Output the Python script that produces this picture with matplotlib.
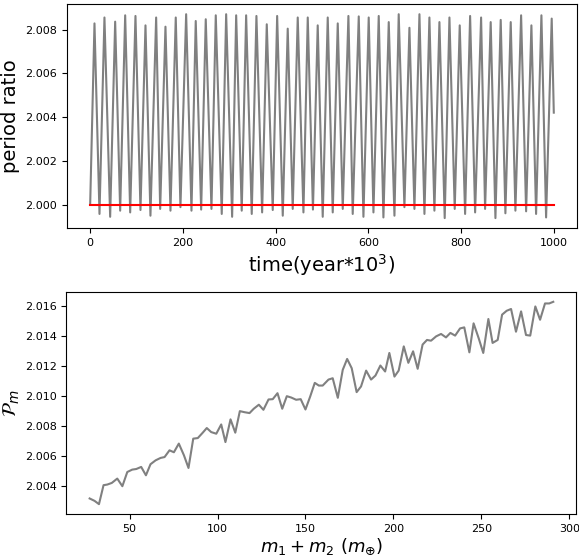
import numpy as np
import matplotlib
matplotlib.use("Agg")
import matplotlib.pyplot as plt

# top panel: period ratio vs time, read as peaks / troughs of the oscillation
t_start, v_start = 0.0, 2.00000
t_end, v_end = 1000.0, 2.00420

peak_t = [9.3, 30.8, 53.9, 75.5, 97.7, 119.3, 142.3, 162.4, 184.6, 207.0,
          227.7, 249.3, 270.9, 293.3, 314.9, 336.4, 358.6, 380.9, 403.3, 426.1,
          447.7, 469.3, 490.8, 512.4, 534.0, 557.0, 579.3, 600.8, 622.4, 644.0,
          665.5, 688.6, 710.2, 731.7, 753.3, 774.9, 797.1, 819.5, 843.2, 863.9,
          885.5, 907.1, 929.5, 951.7, 973.3, 995.5]
peak_v = [2.00828, 2.00855, 2.00836, 2.00865, 2.00862, 2.00819, 2.00855, 2.00813,
          2.00855, 2.00870, 2.00839, 2.00847, 2.00865, 2.00870, 2.00865, 2.00865,
          2.00862, 2.00824, 2.00862, 2.00804, 2.00855, 2.00855, 2.00819, 2.00855,
          2.00828, 2.00862, 2.00860, 2.00855, 2.00862, 2.00834, 2.00870, 2.00808,
          2.00870, 2.00855, 2.00834, 2.00855, 2.00819, 2.00862, 2.00855, 2.00834,
          2.00844, 2.00834, 2.00865, 2.00819, 2.00865, 2.00850]

trough_t = [20.1, 43.1, 64.7, 86.3, 108.5, 130.0, 151.0, 173.2, 194.7, 218.5,
            239.4, 261.6, 283.8, 306.2, 326.9, 348.5, 370.9, 393.8, 415.4, 436.9,
            460.0, 480.5, 501.6, 523.2, 544.8, 566.3, 589.4, 611.0, 632.5, 656.3,
            677.8, 699.4, 721.0, 742.5, 764.7, 786.3, 808.7, 830.3, 851.8, 874.1,
            895.6, 917.2, 940.3, 961.8, 983.4]
trough_v = [1.99957, 1.99944, 1.99972, 1.99964, 1.99975, 1.99949, 1.99980, 1.99972,
            1.99988, 1.99972, 1.99977, 1.99980, 1.99957, 1.99944, 1.99972, 1.99957,
            1.99964, 1.99975, 1.99949, 1.99980, 1.99964, 1.99977, 1.99944, 1.99964,
            1.99980, 1.99957, 1.99944, 1.99964, 1.99941, 1.99949, 1.99988, 1.99980,
            1.99957, 1.99972, 1.99938, 1.99980, 1.99957, 1.99964, 1.99980, 1.99938,
            1.99960, 1.99972, 1.99969, 1.99957, 1.99941]

resonance_value = 2.0

# bottom panel: mean period ratio vs total mass
mass = [27.3, 30.1, 32.6, 35.2, 37.3, 39.9, 43.0, 45.9, 48.7, 51.5,
        53.8, 56.6, 59.3, 61.9, 64.8, 67.6, 69.9, 72.7, 75.2, 78.0,
        80.9, 83.5, 86.2, 88.8, 91.6, 93.9, 96.4, 99.3, 102.1, 104.5,
        107.4, 110.1, 112.7, 115.3, 118.2, 120.6, 123.5, 126.1, 129.0, 131.4,
        134.1, 136.8, 139.4, 141.9, 144.7, 147.3, 150.0, 152.7, 155.3, 157.6,
        159.8, 163.1, 165.5, 168.4, 171.2, 173.7, 176.3, 179.1, 181.6, 184.5,
        187.3, 189.8, 192.6, 195.3, 197.7, 200.6, 203.0, 205.9, 208.5, 211.2,
        213.8, 216.6, 219.1, 221.4, 224.3, 227.1, 229.9, 232.4, 235.1, 237.9,
        240.3, 243.2, 245.6, 248.5, 251.1, 254.0, 256.4, 259.3, 261.8, 264.4,
        266.9, 269.7, 272.6, 275.4, 277.8, 280.7, 283.4, 286.2, 288.6, 290.9]
pm = [2.00316, 2.00300, 2.00278, 2.00405, 2.00409, 2.00420, 2.00449, 2.00398, 2.00493, 2.00509,
      2.00513, 2.00527, 2.00471, 2.00545, 2.00571, 2.00587, 2.00593, 2.00638, 2.00625, 2.00683,
      2.00605, 2.00520, 2.00716, 2.00720, 2.00756, 2.00787, 2.00760, 2.00749, 2.00811, 2.00693,
      2.00845, 2.00756, 2.00900, 2.00893, 2.00887, 2.00916, 2.00943, 2.00909, 2.00978, 2.00980,
      2.01020, 2.00916, 2.01000, 2.00991, 2.00976, 2.00980, 2.00911, 2.00998, 2.01089, 2.01071,
      2.01071, 2.01111, 2.01120, 2.00989, 2.01176, 2.01249, 2.01187, 2.01027, 2.01065, 2.01171,
      2.01111, 2.01138, 2.01205, 2.01165, 2.01289, 2.01131, 2.01171, 2.01333, 2.01223, 2.01300,
      2.01183, 2.01345, 2.01376, 2.01371, 2.01400, 2.01416, 2.01393, 2.01423, 2.01405, 2.01453,
      2.01460, 2.01293, 2.01487, 2.01387, 2.01289, 2.01516, 2.01356, 2.01376, 2.01545, 2.01571,
      2.01583, 2.01431, 2.01567, 2.01409, 2.01405, 2.01600, 2.01511, 2.01620, 2.01620, 2.01631]

# join the turning points into one time series
t_all = np.concatenate([[t_start], peak_t, trough_t, [t_end]])
v_all = np.concatenate([[v_start], peak_v, trough_v, [v_end]])
order = np.argsort(t_all)
t_all = t_all[order]
v_all = v_all[order]

fig = plt.figure(figsize=(5.79, 5.59), dpi=100)

#Top panel
ax1 = fig.add_axes([0.1157, 0.5916, 0.8808, 0.4012])
ax1.plot(t_all, v_all, color='gray', lw=1.5)
ax1.plot([t_start, t_end], [resonance_value, resonance_value], color='red', lw=1.5)
ax1.set_xlabel(r'time(year*10$^3$)', fontsize=14, labelpad=3)
ax1.set_ylabel('period ratio', fontsize=14)
ax1.tick_params(labelsize=8)
ax1.set_xticks([0, 200, 400, 600, 800, 1000])
ax1.set_yticks([2.000, 2.002, 2.004, 2.006, 2.008])

#Bottom panel
ax2 = fig.add_axes([0.1148, 0.0800, 0.8808, 0.3982])
ax2.plot(mass, pm, color='gray', lw=1.5)
ax2.set_xlabel(r'$m_1 + m_2\ (m_{\oplus})$', fontsize=13, labelpad=2)
ax2.set_ylabel(r'$\mathcal{P}_m$', fontsize=14, labelpad=2)
ax2.tick_params(labelsize=8)
ax2.set_xticks([50, 100, 150, 200, 250, 300])
ax2.set_yticks([2.004, 2.006, 2.008, 2.010, 2.012, 2.014, 2.016])

fig.savefig('out.png', dpi=100)
